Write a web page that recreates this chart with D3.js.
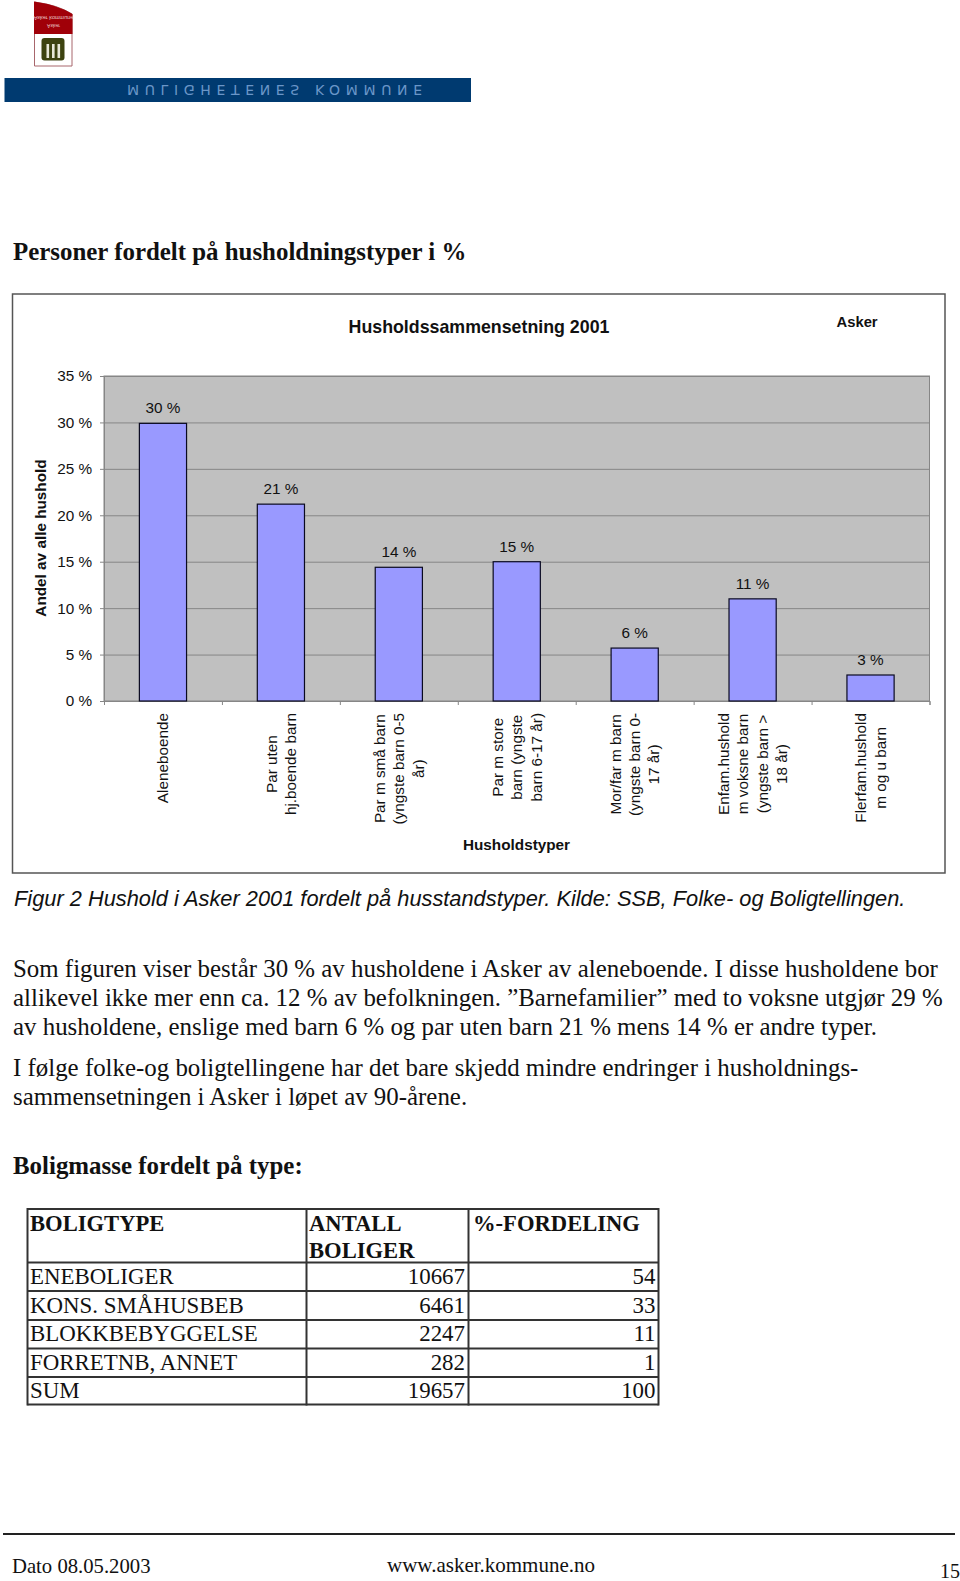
<!DOCTYPE html>
<html>
<head>
<meta charset="utf-8">
<style>
  html, body { margin: 0; padding: 0; background: #fff; }
  svg { display: block; }
  .serif { font-family: "Liberation Serif", serif; fill: #111; }
  .sans { font-family: "Liberation Sans", sans-serif; fill: #111; }
</style>
</head>
<body>
<svg id="page" width="960" height="1581"></svg>
<script src="https://cdn.jsdelivr.net/npm/d3@7"></script>
<script>
// chart data
const categories = [
  ['Aleneboende'],
  ['Par uten', 'hj.boende barn'],
  ['Par m små barn', '(yngste barn 0-5', 'år)'],
  ['Par m store', 'barn (yngste', 'barn 6-17 år)'],
  ['Mor/far m barn', '(yngste barn 0-', '17 år)'],
  ['Enfam.hushold', 'm voksne barn', '(yngste barn >', '18 år)'],
  ['Flerfam.hushold', 'm og u barn']
]
const shares = [29.9, 21.2, 14.4, 15.0, 5.7, 11.0, 2.8]
const yTicks = [0, 5, 10, 15, 20, 25, 30, 35]

// page text
const bodyLines = [
  'Som figuren viser består 30 % av husholdene i Asker av aleneboende. I disse husholdene bor',
  'allikevel ikke mer enn ca. 12 % av befolkningen. ”Barnefamilier” med to voksne utgjør 29 %',
  'av husholdene, enslige med barn 6 % og par uten barn 21 % mens 14 % er andre typer.',
  'I følge folke-og boligtellingene har det bare skjedd mindre endringer i husholdnings-',
  'sammensetningen i Asker i løpet av 90-årene.'
]
const bodyBaselines = [977, 1006, 1035, 1076, 1104.5]

// table data
const tableTypes = ['ENEBOLIGER', 'KONS. SMÅHUSBEB', 'BLOKKBEBYGGELSE', 'FORRETNB, ANNET', 'SUM']
const tableCounts = [10667, 6461, 2247, 282, 19657]
const tablePercents = [54, 33, 11, 1, 100]

const svg = d3.select('#page')
const plot = {left: 104, right: 929.5, top: 376, bottom: 701}

// Logo and banner (the source scan has them upside down)
svg.append('path')
  .attr('d', 'M34.5 2 Q58 5 72 14 L72 66 L34.5 66 Z')
  .attr('fill', '#fff').attr('stroke', '#a8666c').attr('stroke-width', 1)
svg.append('path')
  .attr('d', 'M34 1.5 Q58 5 72.5 14 L72.5 34 L34 34 Z')
  .attr('fill', '#a00008')
svg.append('rect').attr('x', 41.5).attr('y', 38).attr('width', 23).attr('height', 22.5).attr('rx', 3).attr('fill', '#3d4310')
svg.selectAll('.tree')
  .data([46.5, 52, 57.5])
  .enter().append('rect')
  .attr('class', 'tree')
  .attr('x', d => d).attr('y', 44).attr('width', 2.6).attr('height', 14).attr('fill', '#e8e8d8')
svg.append('text').attr('class', 'sans').attr('transform', 'translate(53.5,16) scale(1,-1)')
  .attr('text-anchor', 'middle').attr('font-size', 5.5).style('fill', '#e9c9c9').text('Asker kommune')
svg.append('text').attr('class', 'sans').attr('transform', 'translate(53.5,24) scale(1,-1)')
  .attr('text-anchor', 'middle').attr('font-size', 5).style('fill', '#e9c9c9').text('Asker')

svg.append('rect').attr('x', 4.5).attr('y', 78).attr('width', 466.5).attr('height', 24).attr('fill', '#003a70')
svg.append('text')
  .attr('transform', 'translate(127,84.5) scale(1,-1)')
  .attr('font-family', 'DejaVu Sans').attr('font-size', 14)
  .attr('textLength', 295).attr('fill', '#6b96c8')
  .text('MULIGHETENES KOMMUNE')

svg.append('text').attr('class', 'serif').attr('x', 13).attr('y', 259.5)
  .attr('font-size', 24.9).attr('font-weight', 'bold')
  .text('Personer fordelt på husholdningstyper i %')

// Chart frame
svg.append('rect').attr('x', 12.5).attr('y', 294).attr('width', 932.5).attr('height', 579)
  .attr('fill', '#fff').attr('stroke', '#555').attr('stroke-width', 1.5)

const x = d3.scaleBand()
  .domain(d3.range(categories.length))
  .range([plot.left, plot.right])
  .paddingInner(0.6).paddingOuter(0.3)
const xEdges = d3.scaleLinear([0, categories.length], [plot.left, plot.right])
const y = d3.scaleLinear([0, 35], [plot.bottom, plot.top])

svg.append('rect').attr('x', plot.left).attr('y', plot.top)
  .attr('width', plot.right - plot.left).attr('height', plot.bottom - plot.top)
  .attr('fill', '#c0c0c0').attr('stroke', '#868686')

// gridlines
svg.append('g')
  .attr('transform', `translate(${plot.left},0)`)
  .call(d3.axisLeft(y).tickValues(yTicks).tickSize(-(plot.right - plot.left)).tickFormat(''))
  .call(g => g.select('.domain').remove())
  .call(g => g.selectAll('.tick line').attr('stroke', '#868686'))

// y axis
svg.append('g')
  .attr('transform', `translate(${plot.left},0)`)
  .call(d3.axisLeft(y).tickValues(yTicks).tickSize(4).tickPadding(8).tickFormat(d => d + ' %'))
  .call(g => g.select('.domain').attr('stroke', '#868686'))
  .call(g => g.selectAll('.tick line').attr('stroke', '#868686'))
  .call(g => g.selectAll('.tick text').attr('class', 'sans').attr('font-size', 15.3).attr('font-family', 'Liberation Sans').attr('fill', '#111'))

// x axis ticks sit on the category boundaries
svg.append('g')
  .attr('transform', `translate(0,${plot.bottom})`)
  .call(d3.axisBottom(xEdges).tickValues(d3.range(categories.length + 1)).tickSize(4).tickFormat(''))
  .call(g => g.select('.domain').attr('stroke', '#868686'))
  .call(g => g.selectAll('.tick line').attr('stroke', '#868686'))

// bars
svg.selectAll('.bar')
  .data(shares)
  .enter().append('rect')
  .attr('class', 'bar')
  .attr('x', (d, i) => x(i))
  .attr('y', d => y(d))
  .attr('width', x.bandwidth())
  .attr('height', d => y(0) - y(d))
  .attr('fill', '#9999ff')
  .attr('stroke', '#0a0a20')
  .attr('stroke-width', 1.2)

svg.selectAll('.bar-label')
  .data(shares)
  .enter().append('text')
  .attr('class', 'bar-label sans')
  .attr('x', (d, i) => x(i) + x.bandwidth() / 2)
  .attr('y', d => y(d) - 10)
  .attr('text-anchor', 'middle')
  .attr('font-size', 15.3)
  .text(d => d3.format('.0f')(d) + ' %')

// category labels: rotated, centred on each other, block hangs from the axis
const labelTop = 713
const linePitch = 19.3
categories.forEach((lines, i) => {
  const cx = x(i) + x.bandwidth() / 2
  const g = svg.append('g').attr('class', 'cat-label')
  const texts = g.selectAll('text')
    .data(lines)
    .enter().append('text')
    .attr('class', 'sans')
    .attr('font-size', 15.3)
    .attr('text-anchor', 'middle')
    .text(d => d)
  let longest = 0
  texts.each(function(){ longest = Math.max(longest, this.getComputedTextLength()) })
  const cy = labelTop + longest / 2
  texts.attr('transform', (d, j) => {
    const bx = cx + (j - (lines.length - 1) / 2) * linePitch + 5.5
    return `translate(${bx},${cy}) rotate(-90)`
  })
})

svg.append('text').attr('class', 'sans').attr('x', 479).attr('y', 332.5)
  .attr('text-anchor', 'middle').attr('font-size', 17.8).attr('font-weight', 'bold').text('Husholdssammensetning 2001')
svg.append('text').attr('class', 'sans').attr('x', 836.5).attr('y', 326.5)
  .attr('font-size', 14.8).attr('font-weight', 'bold').text('Asker')
svg.append('text').attr('class', 'sans').attr('x', 516.5).attr('y', 849.5)
  .attr('text-anchor', 'middle').attr('font-size', 15.3).attr('font-weight', 'bold').text('Husholdstyper')
svg.append('text').attr('class', 'sans').attr('transform', 'translate(46,538) rotate(-90)')
  .attr('text-anchor', 'middle').attr('font-size', 15.3).attr('font-weight', 'bold').text('Andel av alle hushold')

// Text under the chart
svg.append('text').attr('class', 'sans').attr('x', 14).attr('y', 906)
  .attr('font-size', 21.8).attr('font-style', 'italic')
  .text('Figur 2 Hushold i Asker 2001 fordelt på husstandstyper. Kilde: SSB, Folke- og Boligtellingen.')

svg.selectAll('.body-line')
  .data(bodyLines)
  .enter().append('text')
  .attr('class', 'body-line serif')
  .attr('x', 13)
  .attr('y', (d, i) => bodyBaselines[i])
  .attr('font-size', 24.9)
  .text(d => d)

svg.append('text').attr('class', 'serif').attr('x', 13).attr('y', 1174)
  .attr('font-size', 24.9).attr('font-weight', 'bold').text('Boligmasse fordelt på type:')

// Table
const colEdges = [27.5, 306.5, 468.5, 658.5]
const rowEdges = [1209, 1262.5, 1291, 1320, 1348.5, 1377, 1404.5]
const tableFont = 22.9
const table = svg.append('g').attr('stroke', '#333').attr('stroke-width', 2)
colEdges.forEach(cx => {
  table.append('line').attr('x1', cx).attr('x2', cx).attr('y1', rowEdges[0] - 1).attr('y2', rowEdges[6] + 1)
})
rowEdges.forEach(ry => {
  table.append('line').attr('x1', colEdges[0]).attr('x2', colEdges[3]).attr('y1', ry).attr('y2', ry)
})

const headerCells = [['BOLIGTYPE', 30, 1230.5], ['ANTALL', 309, 1230.5], ['BOLIGER', 309, 1257.5], ['%-FORDELING', 473, 1230.5]]
svg.selectAll('.head-cell')
  .data(headerCells)
  .enter().append('text')
  .attr('class', 'head-cell serif')
  .attr('x', d => d[1]).attr('y', d => d[2])
  .attr('font-size', 22.6).attr('font-weight', 'bold')
  .text(d => d[0])

const rowBaselines = [1284, 1312.5, 1341, 1369.5, 1398]
tableTypes.forEach((t, i) => {
  svg.append('text').attr('class', 'serif').attr('x', 30).attr('y', rowBaselines[i]).attr('font-size', tableFont).text(t)
  svg.append('text').attr('class', 'serif').attr('x', 465).attr('y', rowBaselines[i]).attr('text-anchor', 'end').attr('font-size', tableFont).text(tableCounts[i])
  svg.append('text').attr('class', 'serif').attr('x', 655.5).attr('y', rowBaselines[i]).attr('text-anchor', 'end').attr('font-size', tableFont).text(tablePercents[i])
})

// Footer
svg.append('line').attr('x1', 3).attr('x2', 955).attr('y1', 1534).attr('y2', 1534).attr('stroke', '#222').attr('stroke-width', 2)
svg.append('text').attr('class', 'serif').attr('x', 12).attr('y', 1572.5).attr('font-size', 20.7).text('Dato 08.05.2003')
svg.append('text').attr('class', 'serif').attr('x', 387).attr('y', 1572).attr('font-size', 21).text('www.asker.kommune.no')
svg.append('text').attr('class', 'serif').attr('x', 940).attr('y', 1578).attr('font-size', 20).text('15')
</script>
</body>
</html>
